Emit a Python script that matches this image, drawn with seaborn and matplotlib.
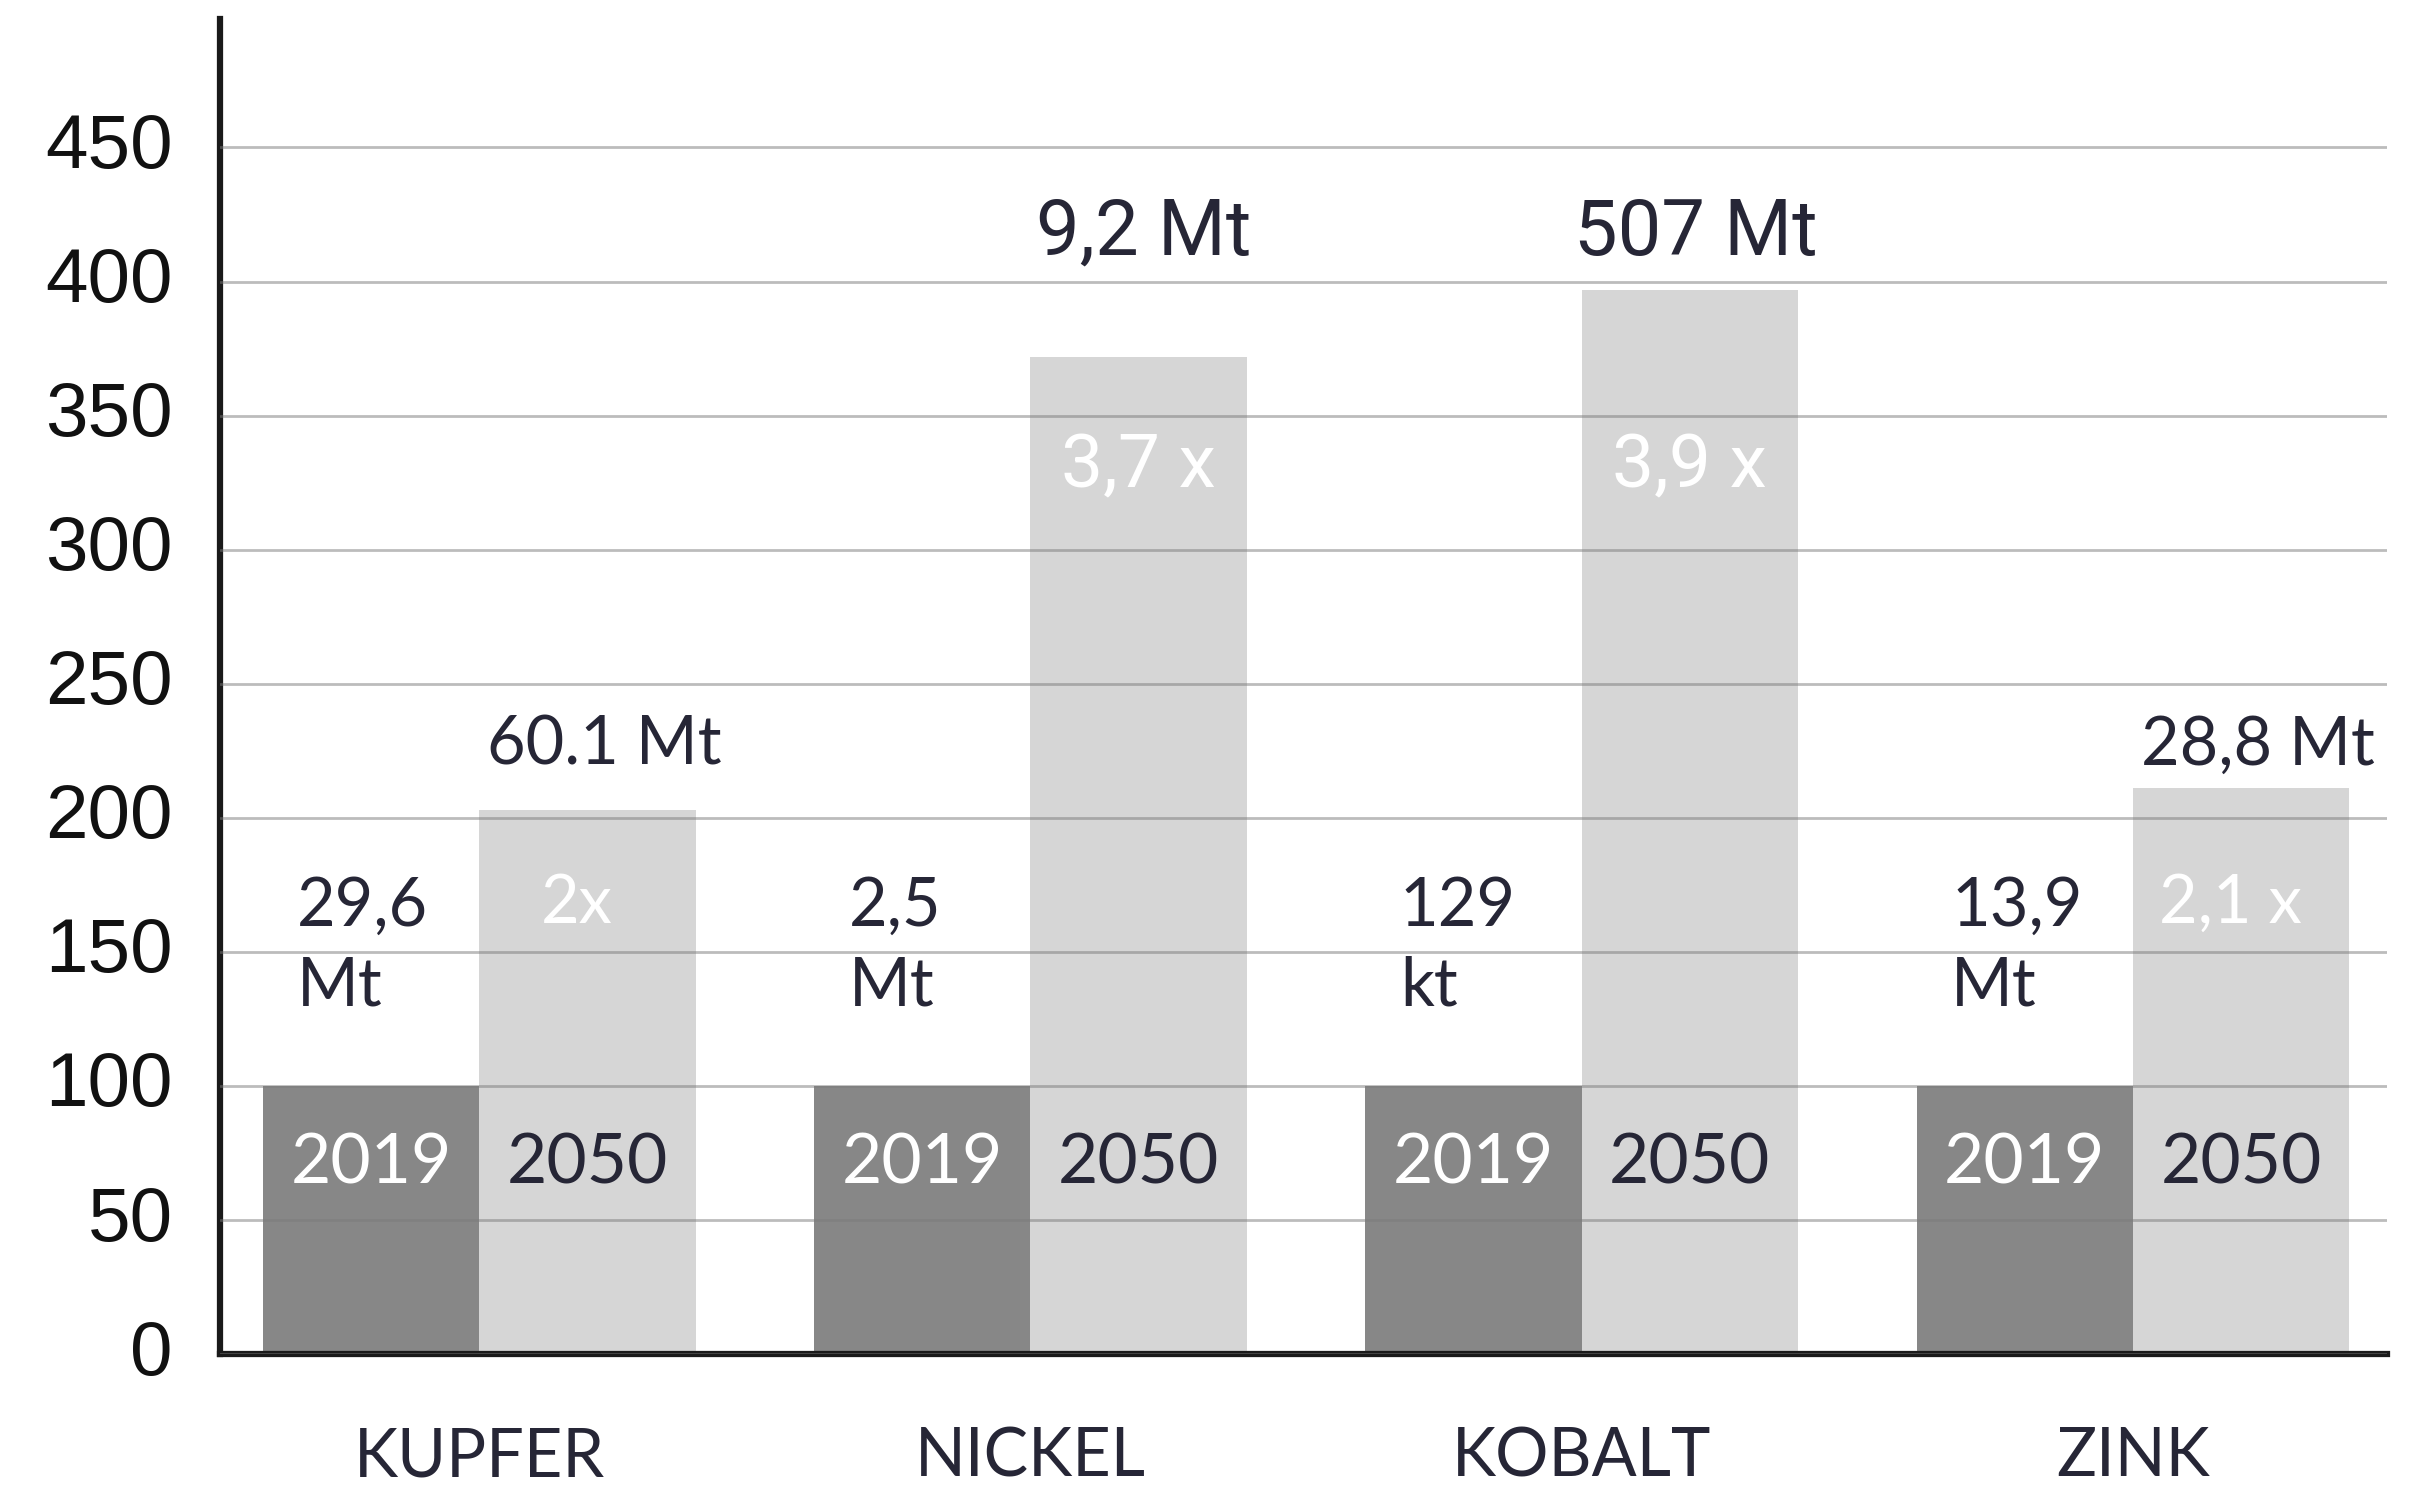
import pandas as pd
import seaborn as sns
import matplotlib.pyplot as plt
import matplotlib.transforms as mtransforms

# Data (index, 2019 = 100)
minerals = ['KUPFER', 'NICKEL', 'KOBALT', 'ZINK']
years = ['2019', '2050']
index_2019 = [100, 100, 100, 100]
index_2050 = [203, 372, 397, 211]

amount_2019 = ['29,6\nMt', '2,5\nMt', '129\nkt', '13,9\nMt']
amount_2050 = ['60.1 Mt', '9,2 Mt', '507 Mt', '28,8 Mt']
factor = ['2x', '3,7 x', '3,9 x', '2,1 x']
# the middle two labels sit higher and use a narrow face
label_high = [False, True, True, False]

df = pd.DataFrame({
    'mineral': minerals * 2,
    'year': [years[0]] * 4 + [years[1]] * 4,
    'value': index_2019 + index_2050,
})

sns.set_style('white')
plt.rcParams['font.family'] = ['Lato', 'DejaVu Sans']

text_dark = '#262636'
text_light = '#ffffff'
narrow = ['Roboto', 'DejaVu Sans']

fig = plt.figure(figsize=(24.18, 14.87), dpi=100)
ax = fig.add_axes([0.091, 0.0894, 0.896, 0.898])

sns.barplot(data=df, x='mineral', y='value', hue='year', order=minerals,
            hue_order=years, palette=['#878787', '#d6d6d6'], saturation=1,
            width=0.785, linewidth=0, legend=False, ax=ax)

ax.set_ylim(0, 498)
ax.set_xlim(-0.47, 3.46)
ax.set_yticks(range(0, 451, 50))
ax.yaxis.grid(True, color='#7a7a7a', alpha=0.5, linewidth=2)
ax.xaxis.grid(False)
ax.set_axisbelow(False)
ax.set_xlabel('')
ax.set_ylabel('')

for side in ['top', 'right']:
    ax.spines[side].set_visible(False)
for side in ['left', 'bottom']:
    ax.spines[side].set_color('#1a1a1a')
    ax.spines[side].set_linewidth(4.5)

ax.tick_params(axis='y', length=0, pad=34, labelsize=55, labelcolor='#111111')
ax.tick_params(axis='x', length=0, pad=52, labelsize=48, labelcolor=text_dark)
lift = mtransforms.ScaledTranslation(0, 5 / 72, fig.dpi_scale_trans)
for lbl in ax.get_yticklabels():
    lbl.set_fontfamily(['Liberation Sans', 'DejaVu Sans'])
    lbl.set_transform(lbl.get_transform() + lift)

off = 0.785 / 4
for i in range(len(minerals)):
    ax.text(i - off, 71, years[0], ha='center', va='center', fontsize=50, color=text_light)
    ax.text(i + off, 71, years[1], ha='center', va='center', fontsize=50, color=text_dark)
    ax.text(i - 0.33, 152, amount_2019[i], ha='left', va='center', fontsize=48,
            color=text_dark, linespacing=1.35)
    if label_high[i]:
        ax.text(i + off + 0.01, 418, amount_2050[i], ha='center', va='center',
                fontsize=56, color=text_dark, family=narrow)
        ax.text(i + off, 331, factor[i], ha='center', va='center', fontsize=54,
                color=text_light, family=narrow)
    else:
        ax.text(i + off + 0.03, 227, amount_2050[i], ha='center', va='center',
                fontsize=48, color=text_dark)
        ax.text(i + off - 0.02, 168, factor[i], ha='center', va='center', fontsize=48,
                color=text_light)

fig.savefig('out.png', dpi=100)
